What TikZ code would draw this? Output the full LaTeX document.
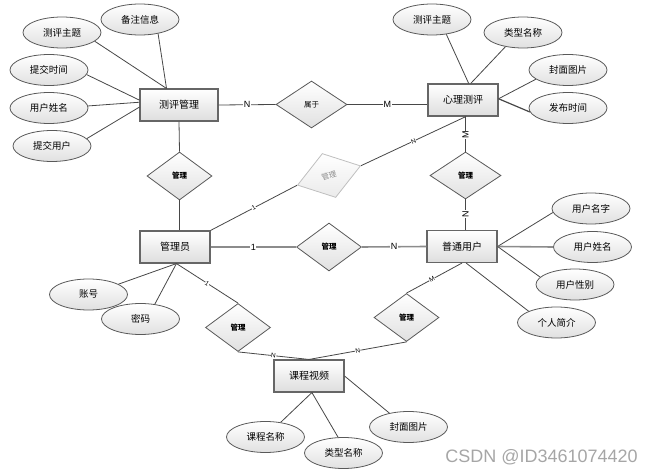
\documentclass[tikz,border=0pt]{standalone}
\usepackage{fontspec}
\setmainfont{Liberation Sans}
\newfontfamily\cjk{Noto Sans CJK SC}
\usetikzlibrary{shapes.geometric}
\tikzset{
 ent/.style={draw=black!60, line width=1.1pt, top color=white, bottom color=black!13, minimum width=70pt, minimum height=32pt, inner sep=0pt, font=\cjk\fontsize{10}{12}\selectfont},
 attr/.style={ellipse, draw=black!65, line width=0.8pt, top color=white, bottom color=black!12, minimum width=78pt, minimum height=31pt, inner sep=0pt, font=\cjk\fontsize{9.5}{11}\selectfont},
 rel/.style={diamond, draw=black!65, line width=0.8pt, top color=white, bottom color=black!12, minimum width=65pt, minimum height=48pt, inner sep=0pt, font=\cjk\bfseries\fontsize{7.5}{9}\selectfont},
 link/.style={draw=black!72, line width=0.8pt},
 thick link/.style={draw=black!45, line width=1.6pt},
 card/.style={font=\fontsize{9}{10}\selectfont, fill=white, inner sep=0.6pt},
 scard/.style={font=\fontsize{6.5}{7}\selectfont, fill=white, inner sep=0.3pt, sloped},
}
\begin{document}
\begin{tikzpicture}[x=1pt,y=-1pt]
\useasboundingbox (0,0) rectangle (654,473);
% entities
\node[ent, minimum width=78pt] (cpgl) at (179,105) {测评管理};
\node[ent] (xlcp) at (463,100) {心理测评};
\node[ent] (gly) at (175,247) {管理员};
\node[ent] (ptyh) at (462,246.5) {普通用户};
\node[ent] (kcsp) at (309,376) {课程视频};
% relations
\node[rel, minimum width=71pt, minimum height=47pt, font=\cjk\fontsize{7.5}{9}\selectfont] (sy) at (311.5,104.5) {属于};
\node[rel] (gl1) at (179.5,176) {管理};
\node[rel, minimum width=71pt, minimum height=47pt] (gl2) at (465.5,175.5) {管理};
\node[rel] (gl3) at (329,247) {管理};
\node[rel] (gl4) at (238,327.5) {管理};
\node[rel] (gl5) at (406.5,317.5) {管理};
\node[rel, rotate=17, draw=black!25, top color=white, bottom color=black!8, text=black!45, font=\cjk\fontsize{7.5}{9}\selectfont, minimum width=66pt, minimum height=46pt] (glg) at (329,175.5) {管理};
% attributes
\node[attr] (a1) at (62,32.5) {测评主题};
\node[attr] (a2) at (140,19.5) {备注信息};
\node[attr] (a3) at (49,70) {提交时间};
\node[attr] (a4) at (49,108) {用户姓名};
\node[attr] (a5) at (52,146) {提交用户};
\node[attr] (b1) at (432,19.5) {测评主题};
\node[attr] (b2) at (523,32.5) {类型名称};
\node[attr] (b3) at (568,70) {封面图片};
\node[attr] (b4) at (568,108) {发布时间};
\node[attr] (c1) at (591,208.5) {用户名字};
\node[attr] (c2) at (592.5,247) {用户姓名};
\node[attr] (c3) at (575,284.5) {用户性别};
\node[attr] (c4) at (556.5,322.5) {个人简介};
\node[attr] (d1) at (88.5,294.5) {账号};
\node[attr] (d2) at (140.5,319) {密码};
\node[attr] (e1) at (265.5,437) {课程名称};
\node[attr] (e2) at (343.5,453) {类型名称};
\node[attr] (e3) at (408.5,427) {封面图片};
% attribute links
\draw[link] (a1.-15) -- (cpgl.127);
\draw[link] (a2.-38) -- (cpgl.127);
\draw[link] (a3.-7) -- (cpgl.173);
\draw[link] (a4.3) -- (cpgl.176);
\draw[link] (a5.12) -- (cpgl.183);
\draw[link] (b1.-46) -- (xlcp.71);
\draw[link] (b2.219) -- (xlcp.65);
\draw[link] (b3.196) -- (xlcp.2);
\draw[link, line width=1.2pt] (b4.186) -- (xlcp.2);
\draw[link] (c1.186) -- (ptyh.east);
\draw[thick link] (c2.west) -- (ptyh.east);
\draw[link] (c3.168) -- (ptyh.east);
\draw[link] (c4.158) -- (ptyh.-76);
\draw[link] (d1.19) -- (gly.-85);
\draw[link] (d2.46) -- (gly.-85);
\draw[link] (e1.44) -- (kcsp.-80);
\draw[link] (e2.109) -- (kcsp.-80);
\draw[link] (e3.144) -- (kcsp.east);
% relation links
\draw[link] (cpgl.east) -- node[card] {N} (sy.west);
\draw[link] (sy.east) -- node[card] {M} (sy.east -| xlcp.west);
\draw[link] (cpgl.south) -- (gl1.north);
\draw[link] (gl1.south) -- (gl1.south |- gly.north);
\draw[link] (gly.north east) -- node[scard] {1} (glg.west);
\draw[link] (glg.east) -- node[scard] {N} (xlcp.-80);
\draw[link] (gl2.north |- xlcp.south) -- node[card, rotate=90, pos=0.53] {M} (gl2.north);
\draw[link] (gl2.south) -- node[card, rotate=90, pos=0.47] {N} (gl2.south |- ptyh.north);
\draw[thick link] (gly.east) -- node[card] {1} (gl3.west);
\draw[thick link] (gl3.east) -- node[card] {N} (ptyh.west);
\draw[link] (ptyh.south) -- node[scard, pos=0.54] {M} (gl5.north);
\draw[link] (gl5.south) -- node[scard] {N} (kcsp.north);
\draw[link] (gl4.south) -- node[scard] {N} (kcsp.north);
\draw[link] (gly.-85) -- node[scard] {1} (gl4.north);
% watermark
\node[font=\fontsize{18}{20}\selectfont, text=black!35, anchor=east, inner sep=0pt] (wm) at (638,457) {CSDN @ID3461074420};
\end{tikzpicture}
\end{document}
